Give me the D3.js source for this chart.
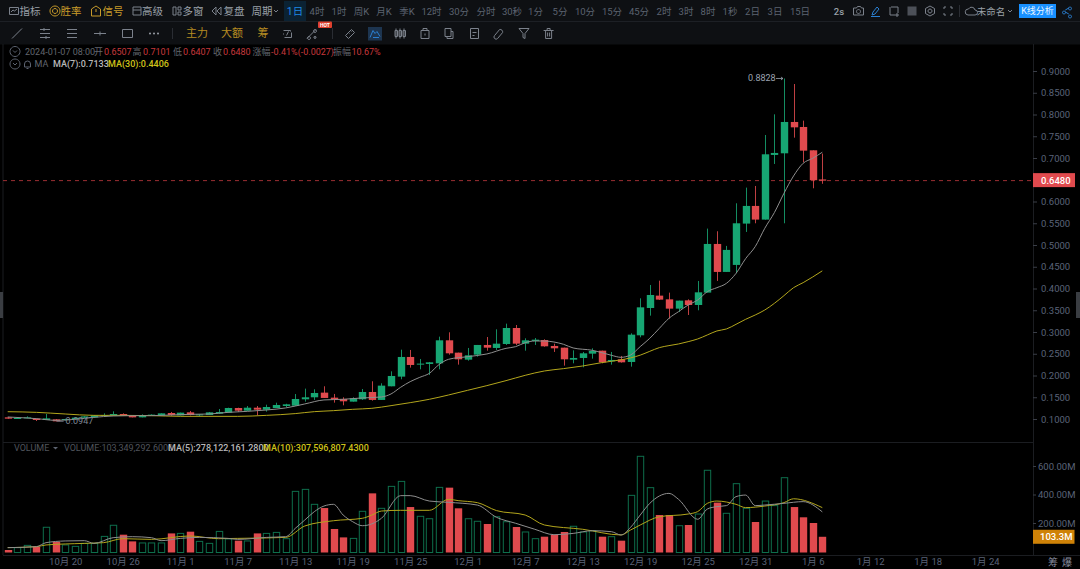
<!DOCTYPE html>
<html><head><meta charset="utf-8">
<script src="https://cdnjs.cloudflare.com/ajax/libs/d3/7.8.5/d3.min.js"></script>
<style>
html,body{margin:0;padding:0;background:#000;overflow:hidden}
svg{display:block}
text{font-family:Roboto,"Noto Sans CJK SC",sans-serif}
</style></head><body>
<svg id="c" width="1080" height="569"></svg>
<script>
// ---------- data ----------
const open_ =[.1038,.1008,.1023,.1008,.0977,.0992,.0977,.1000,.1030,.1038,.1077,.1084,.1115,.1069,.1038,.1084,.1084,.1138,.1084,.1153,.1084,.1092,.1123,.1146,.1253,.1191,.1260,.1214,.1253,.1299,.1306,.1453,.1499,.1606,.1491,.1461,.1399,.1453,.1621,.1438,.1752,.1974,.2426,.2250,.2265,.2280,.2809,.2525,.2364,.2479,.2702,.2633,.2724,.3092,.2732,.2793,.2816,.2679,.2640,.2364,.2403,.2502,.2571,.2326,.2372,.2311,.2924,.3552,.3836,.3751,.3537,.3728,.3621,.3906,.5024,.4381,.4542,.5492,.5898,.5584,.7070,.7108,.7828,.7713,.7177,.6507];
const high  =[.1045,.1023,.1061,.1008,.1115,.1000,.1005,.1032,.1065,.1090,.1130,.1176,.1130,.1069,.1107,.1107,.1130,.1161,.1146,.1184,.1107,.1161,.1230,.1260,.1260,.1299,.1299,.1329,.1375,.1350,.1574,.1698,.1683,.1752,.1576,.1499,.1499,.1690,.1867,.1821,.2096,.2594,.2587,.2380,.2311,.2893,.2993,.2525,.2633,.2702,.2885,.3062,.3192,.3161,.2855,.2862,.2832,.2732,.2640,.2579,.2541,.2625,.2571,.2541,.2449,.2970,.3774,.4081,.4180,.3905,.3721,.3751,.4173,.5377,.5316,.4979,.5959,.6319,.6357,.7529,.8004,.8828,.8701,.7859,.7177,.7101];
const low   =[.1008,.1000,.1023,.0954,.0977,.0947,.0965,.0995,.1025,.1038,.1054,.1084,.1069,.1038,.1038,.1077,.1084,.1077,.1084,.1084,.1069,.1092,.1123,.1146,.1161,.1191,.1084,.1169,.1253,.1275,.1300,.1399,.1438,.1484,.1376,.1315,.1399,.1438,.1422,.1438,.1752,.1913,.2181,.2142,.2012,.2142,.2479,.2250,.2341,.2433,.2571,.2587,.2702,.2702,.2571,.2702,.2663,.2541,.2227,.2280,.2188,.2387,.2280,.2250,.2296,.2204,.2878,.3376,.3736,.3307,.3460,.3391,.3499,.3906,.4174,.4381,.4350,.5300,.5499,.5584,.6863,.5499,.7468,.6901,.6304,.6407];
const close_=[.1008,.1023,.1038,.0977,.1015,.0947,.1000,.1030,.1060,.1084,.1092,.1115,.1069,.1038,.1084,.1100,.1130,.1092,.1146,.1092,.1107,.1153,.1161,.1253,.1191,.1260,.1214,.1276,.1322,.1337,.1460,.1499,.1598,.1484,.1445,.1407,.1476,.1621,.1438,.1767,.1989,.2426,.2242,.2273,.2303,.2809,.2510,.2372,.2464,.2702,.2640,.2732,.3092,.2732,.2809,.2824,.2671,.2625,.2372,.2403,.2510,.2564,.2303,.2357,.2303,.2939,.3567,.3851,.3744,.3537,.3721,.3621,.3912,.5024,.4381,.4887,.5499,.5898,.5584,.7085,.7116,.7828,.7705,.7169,.6490,.6480];
const volume=[10.5,27,43,34,170,67,46,36,57,57,106,184,118,71,60,60,60,127,127,139,71,57,141,88,76,74,127,127,134,90,422,436,331,305,158,99,92,282,408,303,457,492,312,247,230,450,448,303,230,212,193,244,209,172,137,90,104,116,137,177,137,146,104,104,76,394,668,448,256,256,181,186,263,570,343,268,476,303,207,354,322,518,312,240,200,103.3];

const ma7Idx =[0,3,5,7,9,11,13,15,17,19,21,23,25,27,29,31,33,35,37,39,40,41,42,43,44,45,46,48,50,52,53,54,55,56,57,58,59,61,62,63,64,65,66,67,68,69,70,71,72,73,74,75,76,77,78,79,80,81,82,83,84,85];
const ma7Val =[.1046,.1008,.0969,.0992,.1038,.1069,.1077,.1077,.1092,.1107,.1115,.1153,.1176,.1207,.1254,.1346,.1438,.1453,.1484,.1507,.1576,.1729,.1859,.1958,.2050,.2250,.2372,.2433,.2495,.2625,.2663,.2755,.2793,.2793,.2770,.2717,.2633,.2579,.2525,.2464,.2418,.2472,.2664,.2855,.3085,.3315,.3468,.3621,.3736,.3928,.4019,.4119,.4349,.4687,.4963,.5385,.5745,.6189,.6587,.6878,.6993,.7133];
const ma30Idx=[0,3,6,9,12,15,18,21,24,27,30,32,34,36,38,40,42,44,46,48,50,52,54,56,58,60,62,64,65,66,67,68,69,70,71,72,73,74,75,76,77,78,79,80,81,82,83,84,85];
const ma30Val=[.1168,.1153,.1115,.1084,.1084,.1077,.1061,.1061,.1061,.1084,.1124,.1169,.1192,.1223,.1246,.1307,.1376,.1453,.1552,.1660,.1767,.1882,.2004,.2104,.2158,.2219,.2296,.2360,.2405,.2468,.2556,.2641,.2687,.2725,.2778,.2840,.2932,.3024,.3070,.3177,.3292,.3391,.3506,.3659,.3836,.4019,.4134,.4265,.4406];
const vma5Idx=[0,3,4,6,8,9,11,13,15,16,18,20,23,24,27,29,30,31,32,33,34,35,36,37,39,41,42,44,46,49,51,53,55,57,59,61,63,64,65,66,67,69,70,72,73,74,75,76,77,78,79,81,83,85];
const vma5Val=[27,34,62,74,76,57,97,104,97,76,92,99,92,85,99,104,162,221,280,319,331,256,209,181,233,392,392,354,345,326,240,198,156,118,127,146,139,116,170,256,338,408,366,226,298,315,322,385,396,322,326,338,350,278];
const vma10Idx=[0,3,4,8,10,12,15,19,22,24,29,31,34,37,38,39,41,44,46,47,49,51,54,56,60,64,65,66,68,71,72,73,74,76,77,79,81,82,85];
const vma10Val=[27,34,46,57,62,90,85,109,90,92,99,179,216,233,256,284,289,289,366,357,343,287,256,186,156,116,151,186,244,263,280,338,354,331,308,319,343,370,308];

const priceTicks=[.9,.85,.8,.75,.7,.65,.6,.55,.5,.45,.4,.35,.3,.25,.2,.15,.1];
const volTicks=[200,400,600];
const dateTickIdx=[6,12,18,24,30,36,42,48,54,60,66,72,78,84,90,96,102];
const dateTickLabels=["10月 20","10月 26","11月 1","11月 7","11月 13","11月 19","11月 25","12月 1","12月 7","12月 13","12月 19","12月 25","12月 31","1月 6","1月 12","1月 18","1月 24"];
const lastPrice=.648, lastVolume=103.3, hiPrice=.8828, hiIdx=81, loPrice=.0947, loIdx=5;

const toolbar1=[["指标",30,"#9aa0a8"],["胜率",71,"#c79a2a"],["信号",113,"#c79a2a"],["高级",152.5,"#9aa0a8"],["多窗",193,"#9aa0a8"],["复盘",234,"#9aa0a8"],["周期",262,"#9aa0a8"]];
const periods=[["1日",295],["4时",317],["1时",339],["周K",361.5],["月K",384],["季K",407],["12时",431.5],["30分",459],["分时",486],["30秒",512],["1分",535.5],["5分",560],["10分",585],["15分",612],["45分",639],["2时",664],["3时",686],["8时",708],["1秒",730],["2日",752.5],["3日",775],["15日",800]];
const toolbar2=[["主力",197],["大额",232],["筹",263]];

// ---------- scales ----------
const x=d3.scaleLinear([0,85],[7.7,822.3]);
const yP=d3.scaleLinear([.1,.9],[419,71]);
const yV=d3.scaleLinear([0,600],[551.5,466]);
const UP="#17a673",DOWN="#e04a4e",VUP="#0e6e4c",MA1="#8e8e8e",MA2="#b3a61c",TICK="#5a6378";
const bw=7.4;

const svg=d3.select("#c");
svg.append("rect").attr("width",1080).attr("height",569).attr("fill","#000");

// ---------- chrome ----------
svg.append("rect").attr("width",1080).attr("height",44.5).attr("fill","#0e1013");
svg.append("line").attr("x1",0).attr("x2",1080).attr("y1",21.5).attr("y2",21.5).attr("stroke","#1d2025");
const gridc="#1b1d21";
[[3,44,3,555],[1033.5,44,1033.5,555],[3,442.5,1033,442.5],[3,555.5,1080,555.5]].forEach(l=>
 svg.append("line").attr("x1",l[0]).attr("y1",l[1]).attr("x2",l[2]).attr("y2",l[3]).attr("stroke",gridc));

const T=(s,x0,y0,fill,size,anchor,weight)=>svg.append("text").attr("x",x0).attr("y",y0).attr("fill",fill)
 .attr("font-size",size).attr("text-anchor",anchor||"start").attr("font-weight",weight||400).attr("dominant-baseline","central").text(s);

toolbar1.forEach(d=>T(d[0],d[1],11,d[2],10.5,"middle"));
svg.append("rect").attr("x",284).attr("y",1).attr("width",22).attr("height",20).attr("fill","#0b2233");
periods.forEach((d,i)=>T(d[0],d[1],11,i?"#5c6370":"#1e88e5",i?9.5:10.5,"middle"));
T("2s",839,11,"#9aa0a8",9.5,"middle",500);
T("未命名",991,11,"#9aa0a8",9.5,"middle");
svg.append("rect").attr("x",1019).attr("y",4).attr("width",37).attr("height",14).attr("fill","#1890ff");
T("K线分析",1037.5,11,"#e8f4ff",9,"middle");
toolbar2.forEach(d=>T(d[0],d[1],33.5,"#b58b22",11,"middle"));

const icon=(cx,cy,d,stroke)=>svg.append("path").attr("transform",`translate(${cx},${cy})`).attr("d",d)
 .attr("fill","none").attr("stroke",stroke||"#7b818b").attr("stroke-width",1);
// row 1 icons
icon(14,11,"M-4.5-3.5h9v7h-9zM-3 1l2-2 1.5 1 2.5-2");
icon(55,11,"M0-5a5 5 0 1 0 .01 0M0-2.5a2.5 2.5 0 1 0 .01 0","#c79a2a");
icon(96,11,"M0-5l4.5 3v7h-9v-7zM0-2v3","#c79a2a");
icon(137,11,"M-4-4h8v8h-8zM-4-1h8");
icon(177,11,"M-4-4h3v8h-3zM1-4h3v3h-3zM1 1h3v3h-3z");
icon(217,11,"M-1-4l-4 4 4 4zM4-4l-4 4 4 4z");
icon(276,11,"M-2-1l2 2 2-2");
icon(858.5,11,"M-5-3h3l1-1.500h3l1 1.500h2v7h-10zM0-1.500a2 2 0 1 0 .01 0");
icon(876,11,"M-4 4l1-3 4-5 2 2-4 5zM-5 5.500h9","#2a7fd0");
icon(894,11,"M-3-4h7v6M-4-4v8h5M3 2v4M1 4h4");
svg.append("rect").attr("x",907.5).attr("y",6.5).attr("width",9).attr("height",9).attr("fill","#4c5058");
icon(930,11,"M0-5l4.500 2.500v5l-4.500 2.500l-4.500-2.500v-5zM0-2a2 2 0 1 0 .01 0");
icon(948,11,"M-4-4h2M2-4h2M-4 4h2M2 4h2M-4-4v2M4-4v2M-4 2v2M4 2v2");
svg.append("line").attr("x1",959.5).attr("x2",959.5).attr("y1",5).attr("y2",17).attr("stroke","#2a2d33");
icon(971,11,"M-3 4h7a2.500 2.500 0 0 0 0-5a3.500 3.500 0 0 0-6.500-1a3 3 0 0 0-.5 6z");
icon(1010,11,"M-2-1l2 2 2-2");
icon(1067,11,"M-3 0a1.500 1.500 0 1 0 .01 0M3-4a1.500 1.500 0 1 0 .01 0M3 4a1.500 1.500 0 1 0 .01 0M-1.700-1l3.500-2M-1.700 1l3.500 2","#2a7fd0");
// row 2 icons
icon(17,33.5,"M-5 5L5-5");
icon(45,33.5,"M-5-4h10M-5 0h10M-5 4h10M-1-5.500v3M1 2.500v3");
icon(72,33.5,"M-5-4h10M-5 0h10M-5 4h10");
icon(100,33.5,"M-6 0h12M0-2v4");
icon(127.500,33.5,"M-5-4h10v8h-10z");
svg.selectAll(".dot").data([150,154,158]).enter().append("circle").attr("cx",d=>d).attr("cy",33.5).attr("r",1).attr("fill","#9aa0a8");
svg.append("line").attr("x1",172.5).attr("x2",172.5).attr("y1",28).attr("y2",39).attr("stroke","#2a2d33");
icon(287.5,33.5,"M-4-3h7v1M4-1v5h-7M-4 1v-1M-1 2l2-4");
icon(312,33.5,"M-5 5L4-4M-3 3a1.500 1.500 0 1 0 .01 0M3-4a1.500 1.500 0 1 0 .01 0M3 3a1 1 0 1 0 .01 0");
svg.append("rect").attr("x",318).attr("y",21.5).attr("width",14).attr("height",6.5).attr("rx",1).attr("fill","#e0402e");
T("HOT",325,25,"#fff",5,"middle",700);
svg.append("line").attr("x1",332.5).attr("x2",332.5).attr("y1",28).attr("y2",39).attr("stroke","#2a2d33");
icon(349.5,33.5,"M-4 2L2-4l3 3-6 6zM-1-1l1 1M1-3l1 1");
svg.append("rect").attr("x",368).attr("y",27).attr("width",14).attr("height",13.500).attr("fill","#1d3550");
icon(375,33.5,"M-5 4l3-7 2 3 2-2 3 5M-2 4h6","#2a7fd0");
icon(400,33.5,"M-5-3h2.500v6h-2.500zM3-3h2.500v6h-2.500zM-1-3h2.500v6h-2.500zM-4-5v10M0-5v10M4-5v10");
icon(425,33.5,"M-4-3h8v8h-8zM-2-3v-2h4v2M0 0v2");
icon(449,33.5,"M-4-5h6v8h-6zM2-2h2v7h-6v-2");
icon(474.500,33.5,"M-4-5h8v10h-8zM-2-1h4M-2 2h2");
icon(498.600,33.5,"M-4 2l5-6a2.500 2.500 0 0 1 3 3l-5 6a1.500 1.500 0 0 1-3-3");
icon(524,33.5,"M-5-5h10l-4 5v5l-2-1v-4z");
icon(548.6,33.5,"M-5-3h10M-3-3v8h6v-8M-1.500-3v-2h3v2M-1-1v4M1-1v4");

// left / right handles
[[0,292,3],[1076,292,4]].forEach(h=>svg.append("rect").attr("x",h[0]).attr("y",h[1]).attr("width",h[2]).attr("height",26).attr("fill","#3a3d42"));

// ---------- info rows ----------
const cir=(cx,cy)=>icon(cx,cy,"M0-5a5 5 0 1 0 .01 0M-2-1l2 2 2-2","#5c6370");
cir(15,51.5);cir(15,64);
const gy="#62666e",rd="#c8383c";
[["2024-01-07 08:00",25,gy],["开",94,gy],["0.6507",104,rd],["高",132.5,gy],["0.7101",143,rd],["低",173,gy],["0.6407",183,rd],["收",213,gy],["0.6480",223,rd],["涨幅",252.5,gy],["-0.41%(-0.0027)",271,rd],["振幅",333,gy],["10.67%",351.5,rd]]
 .forEach(d=>T(d[0],d[1],51.5,d[2],9));
icon(27.5,64,"M-3 3v-3a3 3 0 0 1 6 0v3zM-1 4.500h2","#5c6370");
T("MA",34.5,64,gy,9);
T("MA(7):0.7133",53,64,"#b9b9b9",9,"start",500);
T("MA(30):0.4406",108,64,"#cfc21a",9,"start",500);

T("VOLUME",14,448,"#50545c",9);
svg.append("path").attr("d","M53 447h5l-2.500 2.500z").attr("fill","#5c6370");
T("VOLUME:103,349,292.6000",64,448,"#50545c",9);
T("MA(5):278,122,161.2800",168,448,"#b9b9b9",9,"start",500);
T("MA(10):307,596,807.4300",263,448,"#cfc21a",9,"start",500);

// ---------- axes ----------
const axP=svg.append("g").attr("transform","translate(1033,0)").call(d3.axisRight(yP).tickValues(priceTicks).tickSize(4).tickFormat(d3.format(".4f")));
const axV=svg.append("g").attr("transform","translate(1033,0)").call(d3.axisRight(yV).tickValues(volTicks).tickSize(3).tickFormat(d=>d3.format(".2f")(d)+"M"));
[axP,axV].forEach(a=>{a.select(".domain").remove();a.selectAll("line").attr("stroke","#3a3e47");a.selectAll("text").attr("fill",TICK).attr("font-size",9.5).attr("x",a===axP?8:5)});
const axX=svg.append("g").attr("transform","translate(0,555)").call(d3.axisBottom(x).tickValues(dateTickIdx).tickSize(0).tickFormat((d,i)=>dateTickLabels[i]));
axX.select(".domain").remove();
axX.selectAll("text").attr("fill",TICK).attr("font-size",9.5).attr("y",3);
T("筹",1053,562,"#8a8fa0",10,"middle");T("爆",1067,562,"#8a8fa0",10,"middle");

// ---------- last price line ----------
svg.append("line").attr("x1",3).attr("x2",1033).attr("y1",yP(lastPrice)).attr("y2",yP(lastPrice)).attr("stroke","#9c2f33").attr("stroke-dasharray","4 4");

// ---------- candles ----------
const idx=d3.range(open_.length);
const col=i=>close_[i]>=open_[i]?UP:DOWN;
const gC=svg.append("g");
gC.selectAll(".w").data(idx).enter().append("line")
 .attr("x1",i=>Math.round(x(i))+.5).attr("x2",i=>Math.round(x(i))+.5)
 .attr("y1",i=>yP(high[i])).attr("y2",i=>yP(low[i])).attr("stroke",col).attr("stroke-opacity",.85);
gC.selectAll(".b").data(idx).enter().append("rect")
 .attr("x",i=>Math.round(x(i))+.5-bw/2).attr("width",bw)
 .attr("y",i=>yP(Math.max(open_[i],close_[i])))
 .attr("height",i=>Math.max(1,Math.abs(yP(open_[i])-yP(close_[i])))).attr("fill",col);

// ---------- price MA lines ----------
const ln=(ix,val,yy,c)=>svg.append("path").attr("fill","none").attr("stroke",c).attr("stroke-width",1)
 .attr("d",d3.line().x((d,i)=>x(ix[i])).y(d=>yy(d)).curve(d3.curveMonotoneX)(val));
ln(ma30Idx,ma30Val,yP,MA2);
ln(ma7Idx,ma7Val,yP,MA1);

// ---------- hi / lo markers ----------
const hy=yP(hiPrice),ly=yP(loPrice);
T(d3.format(".4f")(hiPrice),748,hy,"#9ba3b0",9);
svg.append("path").attr("d",`M${x(hiIdx)-8} ${hy}H${x(hiIdx)-1}M${x(hiIdx)-3} ${hy-1.5}L${x(hiIdx)-1} ${hy}L${x(hiIdx)-3} ${hy+1.5}`).attr("fill","none").attr("stroke","#9ba3b0").attr("stroke-width",.8);
T(d3.format(".4f")(loPrice),x(loIdx)+10,ly,"#7f8794",9);
svg.append("path").attr("d",`M${x(loIdx)+1} ${ly}H${x(loIdx)+8}`).attr("stroke","#7f8794").attr("stroke-width",.8);

// ---------- volume ----------
const gV=svg.append("g");
gV.selectAll("rect").data(idx).enter().append("rect")
 .attr("x",i=>Math.round(x(i))+.5-bw/2+(col(i)===UP?.5:0))
 .attr("width",i=>col(i)===UP?bw-1:bw)
 .attr("y",i=>yV(volume[i]))
 .attr("height",i=>yV(0)+1-yV(volume[i]))
 .attr("fill",i=>col(i)===UP?"none":DOWN)
 .attr("stroke",i=>col(i)===UP?VUP:"none");
ln(vma10Idx,vma10Val,yV,MA2);
ln(vma5Idx,vma5Val,yV,MA1);

// ---------- tags ----------
svg.append("rect").attr("x",1033).attr("y",yP(lastPrice)-7.5).attr("width",42).attr("height",14).attr("fill",DOWN);
T(d3.format(".4f")(lastPrice),1041,yP(lastPrice),"#fff",9.5,"start",500);
svg.append("rect").attr("x",1033).attr("y",yV(lastVolume)-7).attr("width",41.5).attr("height",14).attr("fill","#cf8207");
T(lastVolume.toFixed(1)+"M",1040,yV(lastVolume),"#fff",9.5,"start",500);
</script>
</body></html>
